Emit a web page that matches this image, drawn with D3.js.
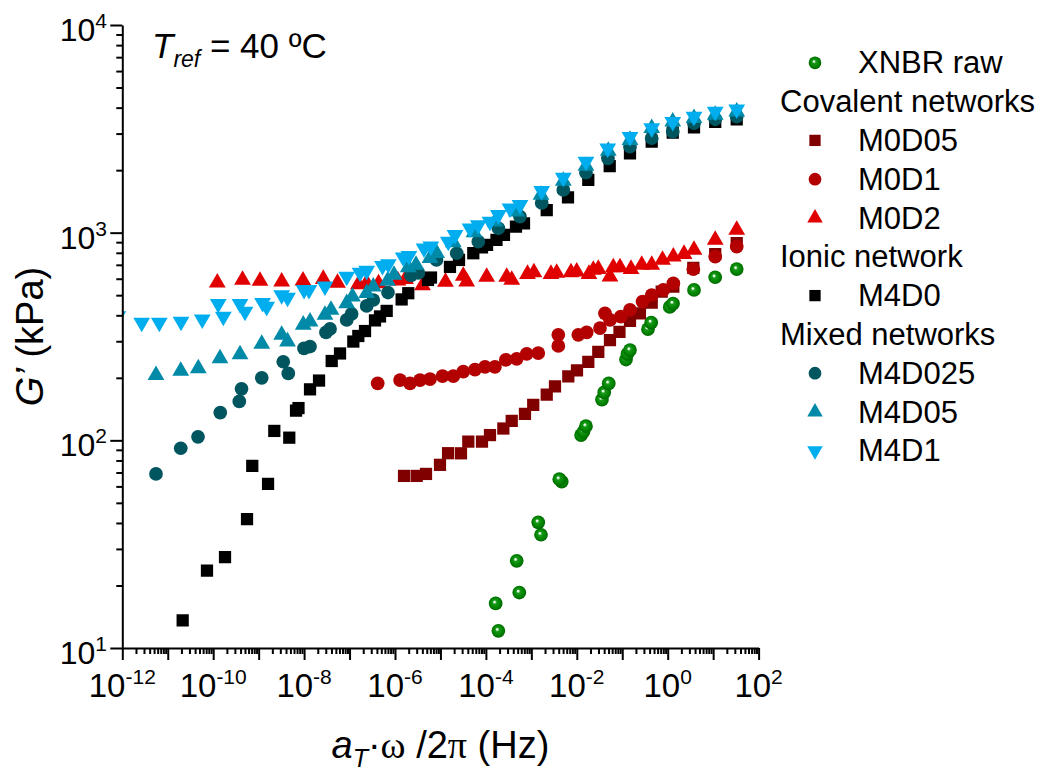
<!DOCTYPE html>
<html>
<head>
<meta charset="utf-8">
<script src="https://cdn.jsdelivr.net/npm/d3@7"></script>
<style>
  body { margin: 0; background: #fff; }
  svg text { font-family: "Liberation Sans", Arial, sans-serif; fill: #000; }
</style>
</head>
<body>
<svg id="chart" width="1043" height="774"></svg>
<script>
// Storage modulus master curves, Tref = 40 C
// every series is a list of [aT*w/2pi (Hz), G' (kPa)]
const xnbrRaw = [[1.88e-4,12.1],[1.64e-4,16.4],[5.43e-4,18.5],[4.76e-4,26.3],[1.63e-3,35.1],[1.42e-3,40.3],
  [4.66e-3,63.3],[4.12e-3,65.0],[1.24e-2,106],[1.40e-2,110],[1.59e-2,117],[3.58e-2,157],[4.01e-2,170],
  [5.04e-2,188],[0.121,245],[0.130,261],[0.148,272],[0.368,343],[0.434,369],[1.11,439],[1.31,455],
  [3.79,530],[11.1,610],[33.0,668]];

const m0d05 = [[1.58e-6,67.4],[3.00e-6,67.4],[4.81e-6,68.9],[9.77e-6,76.2],[1.47e-5,86.7],[2.83e-5,86.6],
  [4.10e-5,98.6],[8.20e-5,98.6],[1.23e-4,106],[2.42e-4,114],[3.70e-4,124],[7.24e-4,134],[1.10e-3,148],
  [2.18e-3,166],[3.31e-3,182],[6.50e-3,203],[1.01e-2,217],[1.79e-2,239],[2.97e-2,267],[5.37e-2,304],
  [8.69e-2,333],[0.148,376],[0.245,409],[0.445,461],[0.738,520],[1.33,550],[3.66,676],[11.1,789],[33.0,891]];

const m0d1 = [[4.16e-7,188],[1.29e-6,195],[2.14e-6,188],[3.55e-6,195],[5.89e-6,197],[1.11e-5,204],
  [1.92e-5,204],[3.18e-5,214],[5.75e-5,219],[9.55e-5,226],[1.58e-4,226],[2.74e-4,244],[4.76e-4,247],
  [7.91e-4,261],[1.42e-3,263],[3.92e-3,322],[3.92e-3,285],[1.08e-2,322],[1.65e-2,331],[3.24e-2,347],
  [4.17e-2,409],[5.37e-2,380],[9.29e-2,394],[0.148,425],[0.279,466],[0.445,501],[0.80,530],[1.33,570],
  [3.66,667],[11.1,766],[33.0,857]];

const m0d2 = [[1.23e-10,575],[4.42e-10,592],[1.07e-9,585],[3.21e-9,581],[9.46e-9,587],[2.64e-8,598],
  [5.43e-8,573],[1.56e-7,563],[2.38e-7,573],[4.34e-7,569],[1.16e-6,587],[1.70e-6,598],[4.03e-6,557],
  [1.29e-5,579],[3.18e-5,619],[3.78e-5,581],[1.04e-4,612],[2.87e-4,612],[3.70e-4,592],[8.22e-4,632],
  [1.14e-3,643],[2.70e-3,632],[3.61e-3,640],[7.45e-3,643],[9.95e-3,649],[1.85e-2,632],[2.31e-2,661],
  [2.97e-2,668],[5.37e-2,614],[6.35e-2,680],[8.91e-2,680],[0.156,668],[0.268,699],[0.445,699],
  [0.769,739],[1.33,766],[2.29,789],[3.79,826],[11.1,923],[33.0,1030]];

const m4d0 = [[2.13e-11,13.6],[7.3e-11,23.6],[1.82e-10,27.4],[5.55e-10,41.7],[7.24e-10,75.3],[1.61e-9,61.7],
  [2.21e-9,111],[4.72e-9,103],[6.64e-9,139],[7.53e-9,143],[1.35e-8,176],[2.13e-8,194],[4.05e-8,241],
  [6.17e-8,262],[1.21e-7,299],[1.56e-7,318],[2.19e-7,336],[3.63e-7,378],[4.68e-7,395],[6.56e-7,420],
  [1.40e-6,477],[1.96e-6,511],[5.32e-6,592],[6.19e-6,608],[1.62e-5,684],[2.56e-5,739],[5.28e-5,796],
  [8.20e-5,849],[1.06e-4,873],[1.71e-4,923],[2.50e-4,975],[4.59e-4,1069],[6.89e-4,1110],[2.18e-3,1285],
  [6.40e-3,1477],[1.79e-2,1794],[5.30e-2,2089],[0.148,2410],[0.445,2742],[1.29,3030],[3.79,3216],
  [11.1,3420],[33.0,3516]];

const m4d025 = [[5.51e-12,68.9],[1.93e-11,91.6],[4.63e-11,104],[1.43e-10,136],[3.75e-10,154],[4.20e-10,177],
  [1.17e-9,200],[3.48e-9,239],[4.49e-9,210],[9.95e-9,277],[1.35e-8,283],[3.03e-8,331],[3.72e-8,344],
  [8.65e-8,380],[1.11e-7,406],[2.38e-7,444],[3.33e-7,474],[7.02e-7,515],[2.25e-6,622],[3.26e-6,640],
  [8.18e-6,739],[2.28e-5,796],[6.81e-5,905],[1.88e-4,1050],[5.62e-4,1194],[1.69e-3,1390],[5.05e-3,1607],
  [1.59e-2,1945],[4.85e-2,2280],[0.148,2594],[0.445,2851],[1.29,3064],[3.79,3365],[11.1,3516],[33.0,3620]];

const m4d05 = [[5.51e-12,206],[1.93e-11,216],[4.70e-11,222],[1.41e-10,248],[3.89e-10,259],[1.17e-9,291],
  [3.21e-9,322],[4.32e-9,299],[9.59e-9,360],[1.35e-8,373],[2.88e-8,402],[3.91e-8,425],[8.65e-8,457],
  [1.16e-7,492],[2.38e-7,511],[3.33e-7,550],[6.84e-7,585],[9.51e-7,626],[1.96e-6,680],[2.90e-6,699],
  [5.89e-6,753],[8.26e-6,796],[1.92e-5,897],[5.47e-5,1002],[1.58e-4,1130],[4.76e-4,1262],[1.63e-3,1520],
  [5.05e-3,1774],[1.59e-2,2094],[4.93e-2,2473],[0.148,2793],[0.445,3184],[1.29,3420],[3.79,3556],
  [11.1,3686],[33.0,3826]];

const m4d1 = [[8.0e-13,397],[2.67e-12,369],[6.52e-12,369],[1.96e-11,373],[5.75e-11,383],[1.29e-10,454],
  [1.67e-10,394],[3.89e-10,454],[5.01e-10,417],[1.22e-9,459],[1.50e-9,440],[3.21e-9,501],[4.32e-9,487],
  [9.95e-9,530],[1.28e-8,530],[2.88e-8,552],[8.65e-8,614],[1.70e-7,643],[2.38e-7,656],[5.31e-7,693],
  [7.13e-7,706],[1.52e-6,760],[2.03e-6,774],[4.35e-6,841],[6.14e-6,860],[1.49e-5,905],[2.09e-5,975],
  [4.47e-5,1050],[6.81e-5,1089],[1.23e-4,1130],[1.88e-4,1217],[3.39e-4,1310],[5.62e-4,1360],
  [1.69e-3,1589],[5.05e-3,1844],[1.59e-2,2197],[4.79e-2,2548],[0.148,2897],[0.445,3184],[1.29,3420],
  [3.79,3620],[11.1,3826],[33.0,3930]];

// axis decades
const xDecades = d3.range(-12, 3);        // 10^-12 .. 10^2
const xLabelDecades = [-12, -10, -8, -6, -4, -2, 0, 2];
const yDecades = [1, 2, 3, 4];

// series in drawing / legend order
const seriesList = [
  {name: 'XNBR raw', data: xnbrRaw, shape: 'sphere', color: '#008000'},
  {name: 'M0D05', data: m0d05, shape: 'square', color: '#800000'},
  {name: 'M0D1', data: m0d1, shape: 'circle', color: '#b30000'},
  {name: 'M0D2', data: m0d2, shape: 'triangle', color: '#e00000'},
  {name: 'M4D0', data: m4d0, shape: 'square', color: '#000000'},
  {name: 'M4D025', data: m4d025, shape: 'circle', color: '#00555f'},
  {name: 'M4D05', data: m4d05, shape: 'triangle', color: '#008aa8'},
  {name: 'M4D1', data: m4d1, shape: 'triangleDown', color: '#00aeef'}
];

// legend rows, group headers have no symbol
const legendRows = [
  {label: 'XNBR raw'}, {label: 'Covalent networks', header: true},
  {label: 'M0D05'}, {label: 'M0D1'}, {label: 'M0D2'},
  {label: 'Ionic network', header: true}, {label: 'M4D0'},
  {label: 'Mixed networks', header: true},
  {label: 'M4D025'}, {label: 'M4D05'}, {label: 'M4D1'}
];

const plot = {left: 122.3, right: 758.6, top: 25, bottom: 648};

const svg = d3.select('#chart');

const x = d3.scaleLog().domain([1e-12, 1e2]).range([plot.left, plot.right]);
const y = d3.scaleLog().domain([10, 1e4]).range([plot.bottom, plot.top]);

const symbolType = {square: d3.symbolSquare, circle: d3.symbolCircle, sphere: d3.symbolCircle,
  triangle: d3.symbolTriangle, triangleDown: d3.symbolTriangle};
const symbolSize = {square: 150, circle: 148, sphere: 148, triangle: 122, triangleDown: 122};

function markerPath(shape, scale) {
  return d3.symbol().type(symbolType[shape]).size(symbolSize[shape] * (scale || 1))();
}

function isMajor(v) {
  const l = Math.log10(v);
  return Math.abs(l - Math.round(l)) < 1e-6;
}

// gradient for the shaded green spheres
const defs = svg.append('defs');
const grad = defs.append('radialGradient')
    .attr('id', 'sphere')
    .attr('cx', '50%').attr('cy', '50%').attr('r', '55%')
    .attr('fx', '40%').attr('fy', '38%');
grad.append('stop').attr('offset', '0%').attr('stop-color', '#ffffff');
grad.append('stop').attr('offset', '10%').attr('stop-color', '#e2f5e2');
grad.append('stop').attr('offset', '27%').attr('stop-color', '#179a17');
grad.append('stop').attr('offset', '70%').attr('stop-color', '#008000');
grad.append('stop').attr('offset', '100%').attr('stop-color', '#005c00');

defs.append('clipPath').attr('id', 'plot-clip')
  .append('rect')
    .attr('x', plot.left).attr('y', plot.top)
    .attr('width', plot.right - plot.left)
    .attr('height', plot.bottom - plot.top);

function fillFor(s) {
  return s.shape === 'sphere' ? 'url(#sphere)' : s.color;
}

function rotFor(s) {
  return s.shape === 'triangleDown' ? ' rotate(180)' : '';
}

// Draw markers
const marks = svg.append('g').attr('clip-path', 'url(#plot-clip)');
seriesList.forEach(s => {
  marks.append('g')
    .selectAll('path')
    .data(s.data)
    .enter().append('path')
    .attr('d', markerPath(s.shape))
    .attr('transform', d => `translate(${x(d[0])},${y(d[1])})${rotFor(s)}`)
    .attr('fill', fillFor(s));
});

// ticks: every 1..9 within each decade
const xTicks = [];
xDecades.forEach(e => {
  for (let m = 1; m <= 9; m++) {
    if (e === 2 && m > 1) break;
    xTicks.push(m * Math.pow(10, e));
  }
});
const yTicks = [];
yDecades.forEach(e => {
  for (let m = 1; m <= 9; m++) {
    if (e === 4 && m > 1) break;
    yTicks.push(m * Math.pow(10, e));
  }
});

const xAxisG = svg.append('g')
    .attr('transform', `translate(0,${plot.bottom})`)
    .call(d3.axisBottom(x).tickValues(xTicks).tickFormat('').tickSizeOuter(0));
xAxisG.selectAll('.tick line').attr('y2', d => isMajor(d) ? 12 : 6);

const yAxisG = svg.append('g')
    .attr('transform', `translate(${plot.left},0)`)
    .call(d3.axisLeft(y).tickValues(yTicks).tickFormat('').tickSizeOuter(0));
yAxisG.selectAll('.tick line').attr('x2', d => isMajor(d) ? -12 : -6);

svg.selectAll('.domain, .tick line')
    .attr('stroke', '#000')
    .attr('stroke-width', 2);

// tick labels with superscripts
xLabelDecades.forEach(e => {
  const t = svg.append('text')
      .attr('x', x(Math.pow(10, e)))
      .attr('y', 697)
      .attr('text-anchor', 'middle')
      .attr('font-size', 33);
  t.append('tspan').text('10');
  t.append('tspan').attr('dy', -13).attr('font-size', 21).text(e);
});

yDecades.forEach(e => {
  const t = svg.append('text')
      .attr('x', 107)
      .attr('y', y(Math.pow(10, e)) + 16)
      .attr('text-anchor', 'end')
      .attr('font-size', 32);
  t.append('tspan').text('10');
  t.append('tspan').attr('dy', -13).attr('font-size', 21).text(e);
});

// axis titles
const xTitle = svg.append('text')
    .attr('x', (plot.left + plot.right) / 2)
    .attr('y', 758)
    .attr('text-anchor', 'middle')
    .attr('font-size', 38);
xTitle.append('tspan').attr('font-style', 'italic').text('a');
xTitle.append('tspan').attr('font-style', 'italic').attr('font-size', 25).attr('dy', 9).text('T');
xTitle.append('tspan').attr('dy', -9).text('\u00b7');
xTitle.append('tspan').attr('font-family', '"Liberation Serif", serif').text('\u03c9');
xTitle.append('tspan').text(' /2');
xTitle.append('tspan').attr('font-family', '"Liberation Serif", serif').text('\u03c0');
xTitle.append('tspan').text(' (Hz)');

const yTitle = svg.append('text')
    .attr('transform', `translate(43,${(plot.top + plot.bottom) / 2}) rotate(-90)`)
    .attr('text-anchor', 'middle')
    .attr('font-size', 38);
yTitle.append('tspan').attr('font-style', 'italic').text('G\u2019');
yTitle.append('tspan').text(' (kPa)');

// reference temperature note
const note = svg.append('text')
    .attr('x', 152)
    .attr('y', 58)
    .attr('font-size', 35);
note.append('tspan').attr('font-style', 'italic').text('T');
note.append('tspan').attr('font-style', 'italic').attr('font-size', 23).attr('dy', 9).text('ref');
note.append('tspan').attr('dy', -9).text(' = 40 \u00baC');

// Legend
const legend = svg.append('g');
const bySeries = {};
seriesList.forEach(s => { bySeries[s.name] = s; });
legendRows.forEach((row, i) => {
  const base = 73.3 + i * 38.8;
  if (row.header) {
    legend.append('text').attr('x', 780).attr('y', base).attr('font-size', 31).text(row.label);
    return;
  }
  const s = bySeries[row.label];
  legend.append('path')
      .attr('d', markerPath(s.shape, 0.85))
      .attr('transform', `translate(815,${base - 10.5})${rotFor(s)}`)
      .attr('fill', fillFor(s));
  legend.append('text').attr('x', 858).attr('y', base).attr('font-size', 31).text(row.label);
});
</script>
</body>
</html>
